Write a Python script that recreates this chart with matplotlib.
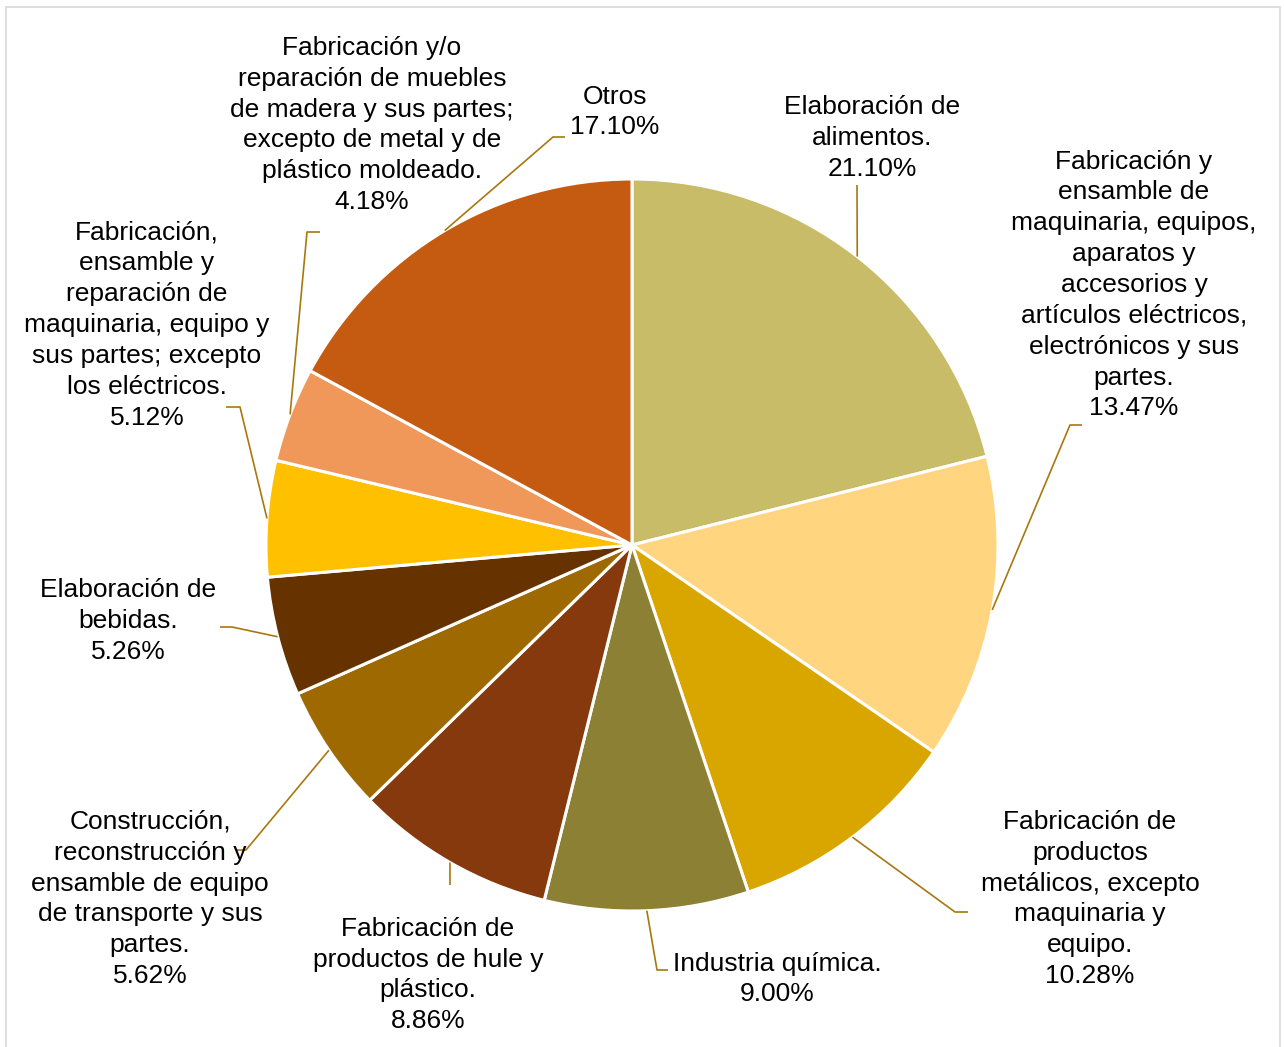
import numpy as np
import matplotlib.pyplot as plt
from matplotlib.patches import Rectangle

plt.rcParams['font.family'] = ['Liberation Sans', 'DejaVu Sans']

labels = [
    "Elaboración de\nalimentos.\n21.10%",
    "Fabricación y\nensamble de\nmaquinaria, equipos,\naparatos y\naccesorios y\nartículos eléctricos,\nelectrónicos y sus\npartes.\n13.47%",
    "Fabricación de\nproductos\nmetálicos, excepto\nmaquinaria y\nequipo.\n10.28%",
    "Industria química.\n9.00%",
    "Fabricación de\nproductos de hule y\nplástico.\n8.86%",
    "Construcción,\nreconstrucción y\nensamble de equipo\nde transporte y sus\npartes.\n5.62%",
    "Elaboración de\nbebidas.\n5.26%",
    "Fabricación,\nensamble y\nreparación de\nmaquinaria, equipo y\nsus partes; excepto\nlos eléctricos.\n5.12%",
    "Fabricación y/o\nreparación de muebles\nde madera y sus partes;\nexcepto de metal y de\nplástico moldeado.\n4.18%",
    "Otros\n17.10%",
]
values = [21.10, 13.47, 10.28, 9.00, 8.86, 5.62, 5.26, 5.12, 4.18, 17.10]
colors = ["#C9BC69", "#FFD580", "#D9A600", "#8B8034", "#85390C",
          "#9E6900", "#663200", "#FFC000", "#F0975A", "#C55A11"]

# label layout in pixels (y measured from top): text centre, elbow, end of leader
text_pos = [(872, 138), (1134, 285), (1090, 899), (777, 979), (428, 975),
            (150, 899), (128, 621), (147, 325), (372, 125), (615, 112)]
elbows = [(857, 185), (1070, 425), (955, 912), (657, 970), (450, 885),
          (246, 850), (232, 627), (240, 407), (307, 232), (553, 137)]
ends = [(857, 185), (1082, 425), (968, 912), (668, 970), (450, 885),
        (236, 850), (220, 627), (226, 407), (320, 232), (565, 137)]

W, H = 1284, 1047
fig = plt.figure(figsize=(W / 100, H / 100), dpi=100)
ax = fig.add_axes([0, 0, 1, 1])

def py(y):
    return H - y

cx, cy, r = 632, py(545), 366
wedges, _ = ax.pie(values, colors=colors, startangle=90, counterclock=False,
                   center=(cx, cy), radius=r, frame=True,
                   wedgeprops=dict(edgecolor='white', linewidth=2.2))
ax.set_xlim(0, W)
ax.set_ylim(0, H)
ax.set_aspect('equal')
ax.axis('off')

lead = "#A8780E"
for w, lab, tp, el, en in zip(wedges, labels, text_pos, elbows, ends):
    ang = np.deg2rad((w.theta1 + w.theta2) / 2)
    x0 = cx + r * np.cos(ang)
    y0 = cy + r * np.sin(ang)
    ax.plot([x0, el[0], en[0]], [y0, py(el[1]), py(en[1])], color=lead, lw=1.2,
            solid_capstyle='butt')
    ax.text(tp[0], py(tp[1]), lab, ha='center', va='center', ma='center',
            fontsize=19, linespacing=1.36, color='black')

# outer frame of chart area
ax.add_patch(Rectangle((6, -20), 1274, py(7) + 20, fill=False,
                       edgecolor='#D9D9D9', lw=1.2, clip_on=False))

fig.savefig("out.png", dpi=100)
